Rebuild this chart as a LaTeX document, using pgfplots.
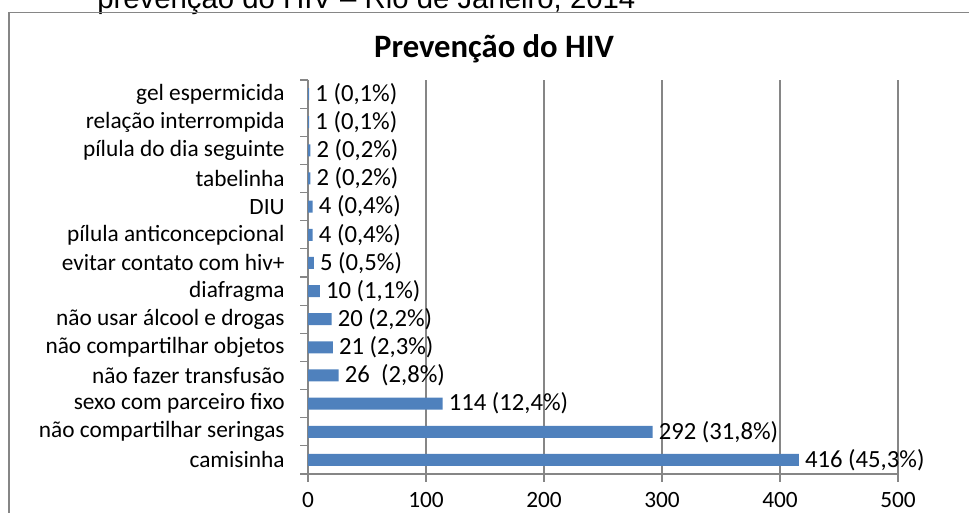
\documentclass[border=0pt]{standalone}
\usepackage{pgfplots}
\pgfplotsset{compat=1.18}
\usepackage{fontspec}
\setmainfont{Carlito}
\newfontfamily\arialfont{Liberation Sans}
\definecolor{barblue}{HTML}{4F81BD}
\definecolor{gridgray}{HTML}{868686}
\begin{document}
\begin{tikzpicture}[x=0.75pt,y=0.75pt]
\useasboundingbox (0,0) rectangle (969,513);
\clip (0,0) rectangle (969,513);
\node[anchor=base west, font=\arialfont\fontsize{22}{26}\selectfont, inner sep=0] at (97,504) {prevenção do HIV – Rio de Janeiro, 2014};
\draw[gridgray, line width=1.2pt] (9,-20) -- (9,500.5) -- (990,500.5);
\node[font=\bfseries\fontsize{24.5}{28}\selectfont] at (494,464) {Prevenção do HIV};
\begin{axis}[
  at={(231pt,29.25pt)}, anchor=south west,
  width=442.5pt, height=295.5pt, scale only axis,
  xmin=0, xmax=500, ymin=-0.5, ymax=13.5,
  axis lines*=left,
  axis line style={gridgray, line width=0.8pt},
  xtick={0,100,...,500},
  xmajorgrids, grid style={gridgray, line width=0.8pt},
  ytick={-0.5,0.5,...,13.5}, yticklabel=\empty,
  extra y ticks={0,1,...,13},
  extra y tick labels={camisinha, não compartilhar seringas, sexo com parceiro fixo, não fazer transfusão, não compartilhar objetos, não usar álcool e drogas, diafragma, evitar contato com hiv+, pílula anticoncepcional, DIU, tabelinha, pílula do dia seguinte, relação interrompida, gel espermicida},
  extra y tick style={major tick length=0pt, yticklabel style={xshift=-14pt}},
  tick align=outside, major tick length=6pt,
  tick style={gridgray, line width=0.8pt},
  tick label style={font=\fontsize{17.5}{20}\selectfont, black},
  /pgf/number format/assume math mode=true,
  xticklabel style={yshift=-4pt},
  xbar, bar width=9pt,
  point meta=explicit symbolic,
  nodes near coords,
  every node near coord/.append style={font=\fontsize{18.5}{21}\selectfont, black, anchor=west, inner sep=4.5pt},
  clip=false,
]
\addplot[fill=barblue, draw=none] coordinates {
  (416,0) [416 (45,3\%)]
  (292,1) [292 (31,8\%)]
  (114,2) [114 (12,4\%)]
  (26,3) [26 \ (2,8\%)]
  (21,4) [21 (2,3\%)]
  (20,5) [20 (2,2\%)]
  (10,6) [10 (1,1\%)]
  (5,7) [5 (0,5\%)]
  (4,8) [4 (0,4\%)]
  (4,9) [4 (0,4\%)]
  (2,10) [2 (0,2\%)]
  (2,11) [2 (0,2\%)]
  (1,12) [1 (0,1\%)]
  (1,13) [1 (0,1\%)]
};
\end{axis}
\end{tikzpicture}
\end{document}
